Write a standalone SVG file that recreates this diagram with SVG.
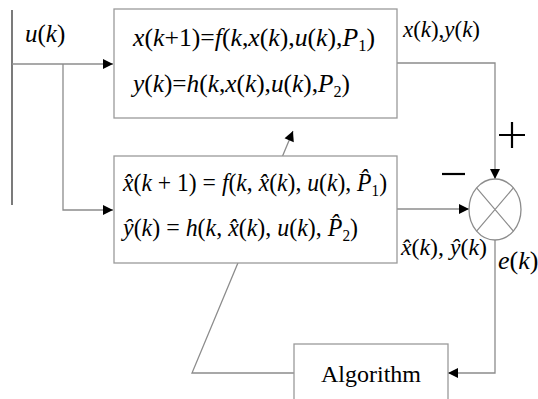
<svg xmlns="http://www.w3.org/2000/svg" width="538" height="399" viewBox="0 0 538 399">
<style>
.ln{fill:none;stroke:#8c8c8c;stroke-width:1.3}
.bx{fill:#fff;stroke:#9a9a9a;stroke-width:1.3}
text{font-family:"Liberation Serif","Times New Roman",serif;fill:#000}
.i{font-style:italic}
.sg{stroke:#000;stroke-width:2.2;fill:none}
</style>
<defs>
<marker id="ah" viewBox="0 0 10 10" refX="10" refY="5" markerWidth="11" markerHeight="10" markerUnits="userSpaceOnUse" orient="auto">
<path d="M0,0 L10,5 L0,10 Z" fill="#000"/>
</marker>
</defs>
<line x1="12" y1="10" x2="12" y2="205" stroke="#333" stroke-width="1.3"/>
<g id="connectors">
<path class="ln" d="M12,64 H113" marker-end="url(#ah)"/>
<path class="ln" d="M63,64 V210 H113" marker-end="url(#ah)"/>
<path class="ln" d="M397,63 H495 V179" marker-end="url(#ah)"/>
<path class="ln" d="M397,209 H469" marker-end="url(#ah)"/>
<path class="ln" d="M495,240 V373 H448" marker-end="url(#ah)"/>
<path class="ln" d="M294,373 H192 L293,131" marker-end="url(#ah)"/>
</g>
<g id="input-label"><text class="i" x="25" y="42" font-size="25">u<tspan font-style="normal">(</tspan>k<tspan font-style="normal">)</tspan></text></g>
<g id="model">
<rect class="bx" x="114" y="9" width="283" height="109"/>
<text x="133" y="46" font-size="25" textLength="242" lengthAdjust="spacingAndGlyphs"><tspan class="i">x</tspan>(<tspan class="i">k</tspan>+1)=<tspan class="i">f</tspan>(<tspan class="i">k</tspan>,<tspan class="i">x</tspan>(<tspan class="i">k</tspan>),<tspan class="i">u</tspan>(<tspan class="i">k</tspan>),<tspan class="i">P</tspan><tspan dy="5" font-size="16">1</tspan><tspan dy="-5">)</tspan></text>
<text x="133" y="92" font-size="25" textLength="217" lengthAdjust="spacingAndGlyphs"><tspan class="i">y</tspan>(<tspan class="i">k</tspan>)=<tspan class="i">h</tspan>(<tspan class="i">k</tspan>,<tspan class="i">x</tspan>(<tspan class="i">k</tspan>),<tspan class="i">u</tspan>(<tspan class="i">k</tspan>),<tspan class="i">P</tspan><tspan dy="5" font-size="16">2</tspan><tspan dy="-5">)</tspan></text>
</g>
<g id="model-label"><text class="i" x="403" y="37" font-size="23" textLength="77" lengthAdjust="spacingAndGlyphs">x<tspan font-style="normal">(</tspan>k<tspan font-style="normal">),</tspan>y<tspan font-style="normal">(</tspan>k<tspan font-style="normal">)</tspan></text></g>
<g id="estimator">
<rect class="bx" x="114" y="156" width="283" height="107"/>
<text x="123" y="191" font-size="25" textLength="264" lengthAdjust="spacingAndGlyphs"><tspan class="i">x&#770;</tspan>(<tspan class="i">k</tspan> + 1) = <tspan class="i">f</tspan>(<tspan class="i">k</tspan>, <tspan class="i">x&#770;</tspan>(<tspan class="i">k</tspan>), <tspan class="i">u</tspan>(<tspan class="i">k</tspan>), <tspan class="i">P&#770;</tspan><tspan dy="5" font-size="16">1</tspan><tspan dy="-5">)</tspan></text>
<text x="123" y="236" font-size="25" textLength="235" lengthAdjust="spacingAndGlyphs"><tspan class="i">y&#770;</tspan>(<tspan class="i">k</tspan>) = <tspan class="i">h</tspan>(<tspan class="i">k</tspan>, <tspan class="i">x&#770;</tspan>(<tspan class="i">k</tspan>), <tspan class="i">u</tspan>(<tspan class="i">k</tspan>), <tspan class="i">P&#770;</tspan><tspan dy="5" font-size="16">2</tspan><tspan dy="-5">)</tspan></text>
</g>
<g id="estimator-label"><text class="i" x="401" y="255" font-size="23" textLength="86" lengthAdjust="spacingAndGlyphs">x&#770;<tspan font-style="normal">(</tspan>k<tspan font-style="normal">),</tspan> y&#770;<tspan font-style="normal">(</tspan>k<tspan font-style="normal">)</tspan></text></g>
<g id="comparator">
<ellipse cx="495" cy="209.5" rx="26" ry="30.5" fill="#fff" stroke="#8c8c8c" stroke-width="1.3"/>
<path d="M476.6,187.9 L513.4,231.1 M513.4,187.9 L476.6,231.1" stroke="#8c8c8c" stroke-width="1.2"/>
<path class="sg" d="M499,135 H525 M512,122 V148"/>
<path class="sg" d="M442,174 H465"/>
</g>
<g id="error-label"><text class="i" x="498" y="269" font-size="26">e<tspan font-style="normal">(</tspan>k<tspan font-style="normal">)</tspan></text></g>
<g id="algorithm">
<rect class="bx" x="294" y="344" width="154" height="70"/>
<text x="371" y="382" font-size="24" text-anchor="middle">Algorithm</text>
</g>
</svg>
